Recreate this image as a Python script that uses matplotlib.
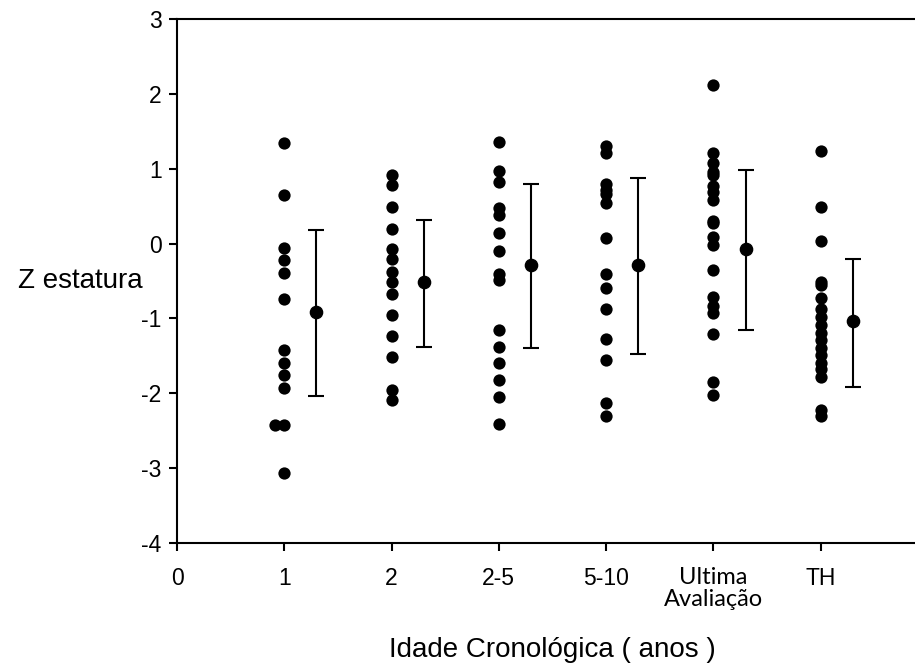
import numpy as np
import matplotlib
matplotlib.use("Agg")
import matplotlib.pyplot as plt

plt.rcParams['font.family'] = ['Liberation Sans', 'DejaVu Sans']
plt.rcParams['axes.unicode_minus'] = False

# categorias do eixo x
categorias = ['0', '1', '2', '2-5', '5-10', 'Ultima\nAvaliação', 'TH']

# Z estatura individual por idade
z_1 = [1.35, 0.65, -0.06, -0.22, -0.39, -0.74, -1.42, -1.59, -1.76, -1.93, -2.42, -2.42, -3.07]
x_1 = [1, 1, 1, 1, 1, 1, 1, 1, 1, 1, 0.91, 1, 1]
z_2 = [0.92, 0.78, 0.49, 0.20, -0.07, -0.20, -0.38, -0.52, -0.67, -0.95, -1.24, -1.52, -1.95, -2.09]
z_25 = [1.36, 0.97, 0.82, 0.48, 0.38, 0.14, -0.10, -0.40, -0.48, -1.15, -1.38, -1.60, -1.82, -2.05, -2.41]
z_510 = [1.31, 1.21, 0.79, 0.72, 0.66, 0.54, 0.07, -0.41, -0.60, -0.87, -1.27, -1.56, -2.13, -2.30]
z_ult = [2.12, 1.21, 1.07, 0.96, 0.92, 0.77, 0.69, 0.58, 0.30, 0.27, 0.09, -0.02, -0.35,
         -0.71, -0.84, -0.93, -1.21, -1.85, -2.02]
z_th = [1.24, 0.49, 0.03, -0.51, -0.55, -0.73, -0.87, -0.98, -1.09, -1.20, -1.29, -1.40,
        -1.49, -1.60, -1.67, -1.78, -2.22, -2.31]

# media e intervalo por grupo
medias = [-0.91, -0.52, -0.29, -0.28, -0.07, -1.04]
sup = [0.18, 0.315, 0.80, 0.88, 0.98, -0.21]
inf = [-2.03, -1.38, -1.40, -1.47, -1.15, -1.91]

fig = plt.figure(figsize=(9.15, 6.66), dpi=100)
ax = fig.add_axes([177/915, 123/666, 738/915, 524/666])

ms = 78
ax.scatter(x_1, z_1, s=ms, color='black', zorder=3, linewidths=0)
for i, g in enumerate([z_2, z_25, z_510, z_ult, z_th]):
    ax.scatter([i + 2] * len(g), g, s=ms, color='black', zorder=3, linewidths=0)

pos = np.arange(1, 7) + 0.3
medias = np.array(medias)
yerr = [medias - np.array(inf), np.array(sup) - medias]
ax.errorbar(pos, medias, yerr=yerr, fmt='o', color='black', markersize=8.8,
            ecolor='black', elinewidth=1.5, capsize=6, capthick=1.5, zorder=3)

ax.set_xlim(0, 6.88)
ax.set_ylim(-4, 3)
ax.set_yticks(range(-4, 4))
ax.set_xticks(range(7))
ax.set_xticklabels(categorias)
ax.spines['right'].set_visible(False)
for s in ['left', 'bottom', 'top']:
    ax.spines[s].set_linewidth(1.5)
ax.tick_params(axis='both', direction='out', length=6, width=1.5, labelsize=16.5)
ax.tick_params(axis='x', pad=11)
ax.tick_params(axis='y', pad=5)
for lab in ax.get_xticklabels():
    if 'Ultima' in lab.get_text():
        lab.set_family(['Lato', 'DejaVu Sans'])
        lab.set_fontsize(17)
        lab.set_linespacing(1.1)

ax.set_ylabel('Z estatura', fontsize=20, rotation=0, ha='right', va='center')
ax.yaxis.set_label_coords(-0.046, 0.5)
ax.set_xlabel('Idade Cronológica ( anos )', fontsize=20, va='center')
ax.xaxis.set_label_coords(0.508, -0.204)

fig.savefig('out.png', dpi=100)
